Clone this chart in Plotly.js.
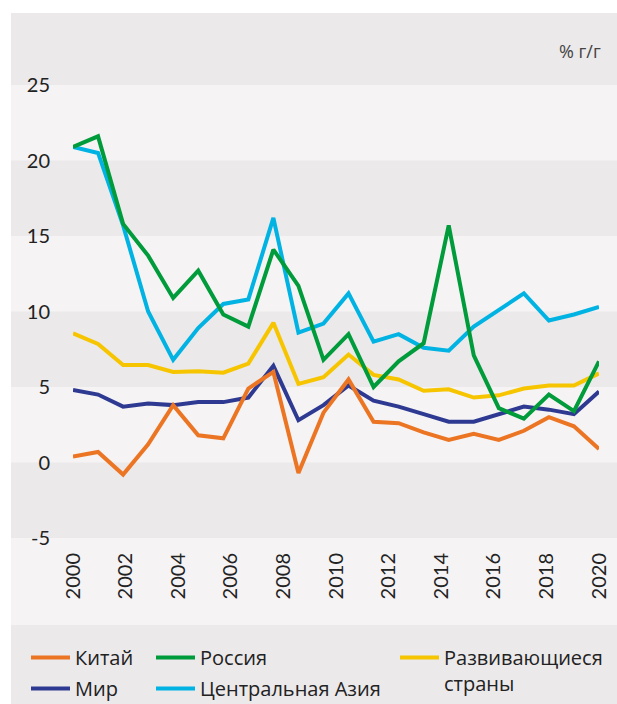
<!DOCTYPE html>
<html>
<head>
<meta charset="utf-8">
<script src="https://cdn.plot.ly/plotly-3.0.1.min.js"></script>
<style>html,body{margin:0;padding:0;background:#fff;}</style>
</head>
<body>
<div id="chart" style="width:617px;height:704px;"></div>
<script>
// ---- data ----
const years = [2000,2001,2002,2003,2004,2005,2006,2007,2008,2009,2010,2011,2012,2013,2014,2015,2016,2017,2018,2019,2020,2021];
const china = [0.4,0.7,-0.8,1.2,3.8,1.8,1.6,4.9,6.0,-0.7,3.3,5.5,2.7,2.6,2.0,1.5,1.9,1.5,2.1,3.0,2.4,0.9];
const world = [4.8,4.5,3.7,3.9,3.8,4.0,4.0,4.3,6.4,2.8,3.8,5.1,4.1,3.7,3.2,2.7,2.7,3.2,3.7,3.5,3.2,4.7];
const russia = [20.9,21.6,15.8,13.7,10.9,12.7,9.8,9.0,14.1,11.7,6.8,8.5,5.0,6.7,7.9,15.7,7.1,3.6,2.9,4.5,3.4,6.7];
const centralAsia = [20.9,20.5,15.7,10.0,6.8,8.9,10.5,10.8,16.2,8.6,9.2,11.2,8.0,8.5,7.6,7.4,9.0,10.1,11.2,9.4,9.8,10.3];
const developing = [8.55,7.85,6.45,6.45,6.0,6.05,5.95,6.55,9.25,5.2,5.65,7.15,5.8,5.5,4.75,4.85,4.3,4.45,4.9,5.1,5.1,5.9];
const tickYears = ['2000','2002','2004','2006','2008','2010','2012','2014','2016','2018','2020'];
const yTicks = [-5,0,5,10,15,20,25];
const yTickText = ['-5','0','5','10','15','20','25'];
const names = {china:'Китай', world:'Мир', russia:'Россия', ca:'Центральная Азия', dev:'Развивающиеся<br>страны'};
const unitLabel = '% г/г';

// ---- geometry ----
const W = 617, H = 704, L = 73, R = 18, T = 85, B = 166;
const PW = W - L - R, PH = H - T - B;
const px = v => (v - L) / PW;
const py = v => (H - B - v) / PH;
const x0 = years[0], x1 = years[years.length - 1];
// labels spread evenly across the full data span, as in the reference
const tickPos = tickYears.map((t, i) => x0 + i * (x1 - x0) / (tickYears.length - 1));

const DARK = '#ebe9ea', LIGHT = '#f5f3f4';
const FONT = 'Lato, "Noto Sans", sans-serif';
const FONT2 = '"Open Sans", "Noto Sans", sans-serif';

function line(y, name, color, legend, rank) {
  return {x: years, y: y, name: name, type: 'scatter', mode: 'lines',
    line: {color: color, width: 4}, legend: legend, legendrank: rank,
    legendgroup: name, hoverinfo: 'skip'};
}

const data = [
  line(centralAsia, names.ca, '#00b3e3', 'legend2', 2),
  line(developing, names.dev, '#f6c500', 'legend3', 1),
  line(world, names.world, '#2e3a92', 'legend', 2),
  line(russia, names.russia, '#009b3a', 'legend2', 1),
  line(china, names.china, '#ec7524', 'legend', 1)
];

const shapes = [
  {type:'rect', xref:'paper', yref:'paper', x0:px(11), x1:px(W), y0:py(H), y1:py(13),
   fillcolor:DARK, line:{width:0}, layer:'below'},
  {type:'rect', xref:'paper', yref:'paper', x0:px(11), x1:px(W), y0:py(625), y1:0,
   fillcolor:LIGHT, line:{width:0}, layer:'below'}
];
[[0,5],[10,15],[20,25]].forEach(b => shapes.push({type:'rect', xref:'paper', yref:'y',
  x0:px(11), x1:px(W), y0:b[0], y1:b[1], fillcolor:LIGHT, line:{width:0}, layer:'below'}));

const legFont = {family: FONT2, size: 20, color: '#222'};
const legBase = {orientation:'v', xref:'container', yref:'container', xanchor:'left', yanchor:'top',
  bgcolor:'rgba(0,0,0,0)', font: legFont, tracegroupgap: 2, itemclick:false,
  itemdoubleclick:false, valign:'top', itemwidth: 39};
const cx = v => v / W, cy = v => 1 - v / H;

const layout = {
  width: W, height: H,
  margin: {l: L, r: R, t: T, b: B, pad: 0, autoexpand: false},
  paper_bgcolor: '#ffffff', plot_bgcolor: 'rgba(0,0,0,0)',
  font: {family: FONT, size: 19, color: '#222'},
  showlegend: true,
  xaxis: {type:'linear', range:[x0, x1], showgrid:false, zeroline:false, showline:false,
    ticks:'', tickvals: tickPos, ticktext: tickYears, tickangle: -90,
    tickfont:{family: FONT, size: 20, color:'#222'}, ticklabelstandoff: 10, fixedrange:true},
  yaxis: {range:[-5, 25], showgrid:false, zeroline:false, showline:false, ticks:'',
    tickvals: yTicks, ticktext: yTickText, tickfont:{family: FONT, size: 20, color:'#222'},
    ticklabelstandoff: 22, fixedrange:true},
  shapes: shapes,
  legend: Object.assign({}, legBase, {x: cx(26), y: cy(638)}),
  legend2: Object.assign({}, legBase, {x: cx(151), y: cy(638)}),
  legend3: Object.assign({}, legBase, {x: cx(395), y: cy(638)}),
  annotations: [{text: unitLabel, xref:'paper', yref:'paper', x: px(603), y: py(51),
    xanchor:'right', yanchor:'middle', showarrow:false,
    font:{family: FONT2, size: 18, color:'#444'}}]
};

Plotly.newPlot('chart', data, layout, {displayModeBar:false, staticPlot:true});
</script>
</body>
</html>
